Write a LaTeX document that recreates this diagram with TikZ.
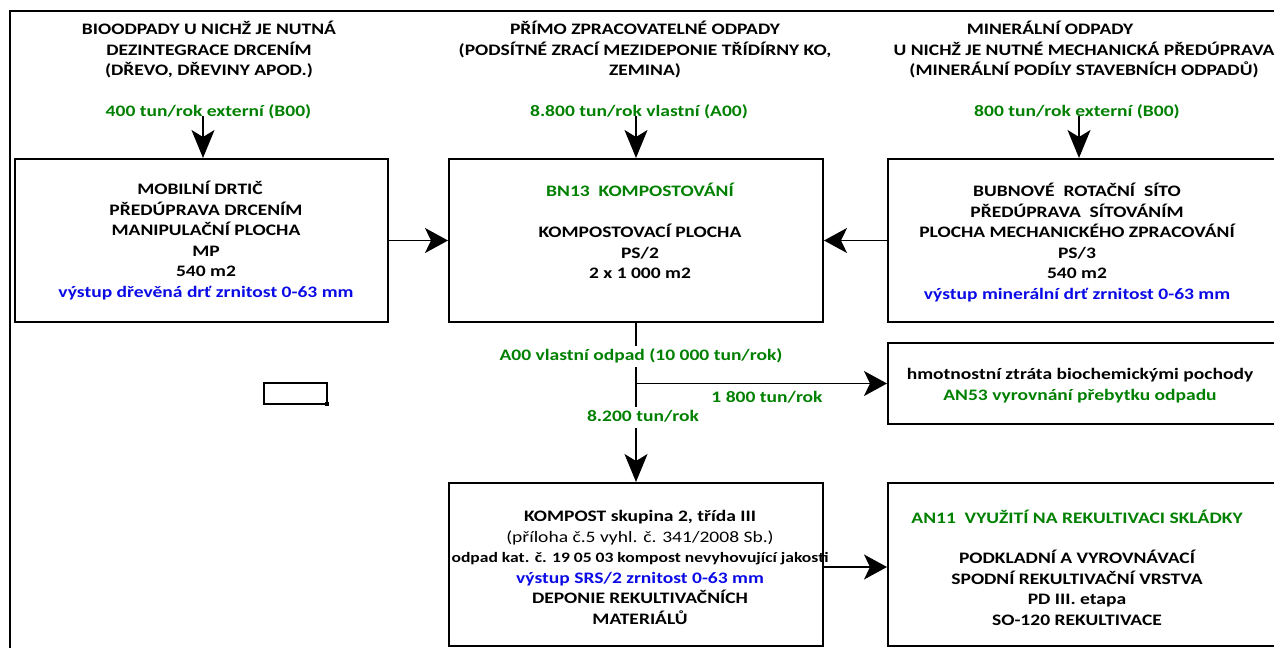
\documentclass[tikz,border=0pt]{standalone}
\usepackage{fontspec}
\setmainfont{Carlito}[FakeStretch=1.22]
\usetikzlibrary{arrows.meta}
\definecolor{tgreen}{RGB}{0,128,0}
\definecolor{tblue}{RGB}{10,10,230}
\tikzset{
  vchev/.tip={Stealth[length=28pt,width=23pt,inset=7pt]},
  hchev/.tip={Stealth[length=23pt,width=25pt,inset=6pt]},
  boxx/.style={draw, line width=2pt, inner sep=0pt},
  conn/.style={line width=1.5pt},
  txt/.style={anchor=north, align=center, inner sep=0pt, yshift=-2.5pt, execute at begin node=\strut},
  grn/.style={text=tgreen},
  blu/.style={text=tblue},
}
\begin{document}
\begin{tikzpicture}[x=1pt,y=-1pt,font=\bfseries\fontsize{16}{20.5}\selectfont]
\useasboundingbox (0,0) rectangle (1274,648);
\clip (0,0) rectangle (1274,648);
% frame
\draw[line width=2.5pt] (10,648) -- (10,11) -- (1290,11);
% boxes
\node[boxx, minimum width=373pt, minimum height=163pt] (lbox) at (201.5,240.5) {};
\node[boxx, minimum width=374pt, minimum height=163pt] (cbox) at (636,240.5) {};
\node[boxx, minimum width=402pt, minimum height=163pt] (rbox) at (1089,240.5) {};
\node[boxx, minimum width=402pt, minimum height=81pt] (hbox) at (1089,383.5) {};
\node[boxx, minimum width=374pt, minimum height=163pt] (kbox) at (636,564.5) {};
\node[boxx, minimum width=402pt, minimum height=163pt] (abox) at (1089,564.5) {};
% top texts
\node[txt] (lt) at (209,18.6) {BIOODPADY U NICHŽ JE NUTNÁ\\DEZINTEGRACE DRCENÍM\\(DŘEVO, DŘEVINY APOD.)};
\node[txt] (ct) at (645,18.6) {PŘÍMO ZPRACOVATELNÉ ODPADY\\(PODSÍTNÉ ZRACÍ MEZIDEPONIE TŘÍDÍRNY KO,\\ZEMINA)};
\node[txt] (rt) at (1084,18.6) {MINERÁLNÍ ODPADY\hspace*{68pt}\\U NICHŽ JE NUTNÉ MECHANICKÁ PŘEDÚPRAVA\\(MINERÁLNÍ PODÍLY STAVEBNÍCH ODPADŮ)};
\node[txt,grn] (lg) at (208.5,99.6) {400 tun/rok externí (B00)};
\node[txt,grn] (cg) at (639,99.6) {8.800 tun/rok vlastní (A00)};
\node[txt,grn] (rg) at (1077,99.6) {800 tun/rok externí (B00)};
% top arrows
\coordinate (la) at (203,116);
\coordinate (ca) at (636,116);
\coordinate (ra) at (1079,116);
\draw[conn,-vchev] (la) -- (la |- lbox.north);
\draw[conn,-vchev] (ca) -- (ca |- cbox.north);
\draw[conn,-vchev] (ra) -- (ra |- rbox.north);
% box texts
\node[txt] (ltx) at (206,178.6) {MOBILNÍ DRTIČ\hspace*{12pt}\\PŘEDÚPRAVA DRCENÍM\\MANIPULAČNÍ PLOCHA\\MP\\540 m2\hspace*{28pt}\\\textcolor{tblue}{výstup dřevěná drť zrnitost 0-63 mm}};
\node[txt] (ctx) at (640,180.6) {\textcolor{tgreen}{BN13\ \ KOMPOSTOVÁNÍ}\\[20.5pt]KOMPOSTOVACÍ PLOCHA\\PS/2\\2 x 1 000 m2};
\node[txt] (rtx) at (1077,180.6) {BUBNOVÉ\ \ ROTAČNÍ\ \ SÍTO\\PŘEDÚPRAVA\ \ SÍTOVÁNÍM\\PLOCHA MECHANICKÉHO ZPRACOVÁNÍ\\PS/3\\540 m2\\\textcolor{tblue}{výstup minerální drť zrnitost 0-63 mm}};
\node[txt] (htx) at (1080,365.6) {hmotnostní ztráta biochemickými pochody\\\textcolor{tgreen}{AN53 vyrovnání přebytku odpadu}};
\node[txt] (ktx) at (640,507.6) {KOMPOST skupina 2, třída III\\{\mdseries (příloha č.5 vyhl. č. 341/2008 Sb.)}\\{\fontsize{14.4}{20.5}\selectfont odpad kat. č. 19 05 03 kompost nevyhovující jakosti}\\\textcolor{tblue}{výstup SRS/2 zrnitost 0-63 mm}\\DEPONIE REKULTIVAČNÍCH\\MATERIÁLŮ};
\node[txt] (atx) at (1077,507.6) {\textcolor{tgreen}{AN11\ \ VYUŽITÍ NA REKULTIVACI SKLÁDKY}\\[19.5pt]PODKLADNÍ A VYROVNÁVACÍ\\SPODNÍ REKULTIVAČNÍ VRSTVA\\PD III. etapa\\SO-120 REKULTIVACE};
% connectors
\draw[conn,-hchev] (lbox.east) -- (cbox.west);
\draw[conn,-hchev] (rbox.west) -- (cbox.east);
\draw[conn,-vchev] (cbox.south) -- (kbox.north);
\draw[conn,-hchev] (cbox.south |- hbox.west) -- (hbox.west);
\draw[conn,-hchev] (kbox.east |- 0,567) -- (hbox.west |- 0,567);
% flow labels
\node[txt,grn,fill=white] (f1) at (641,343.6) {A00 vlastní odpad (10 000 tun/rok)};
\node[txt,grn] (f2) at (767,385.6) {1 800 tun/rok};
\node[txt,grn,fill=white] (f3) at (643,404.6) {8.200 tun/rok};
% small rectangle
\draw[line width=2.2pt] (264,383) rectangle (327,404);
\fill (325,402) rectangle (329,406);
\end{tikzpicture}
\end{document}
